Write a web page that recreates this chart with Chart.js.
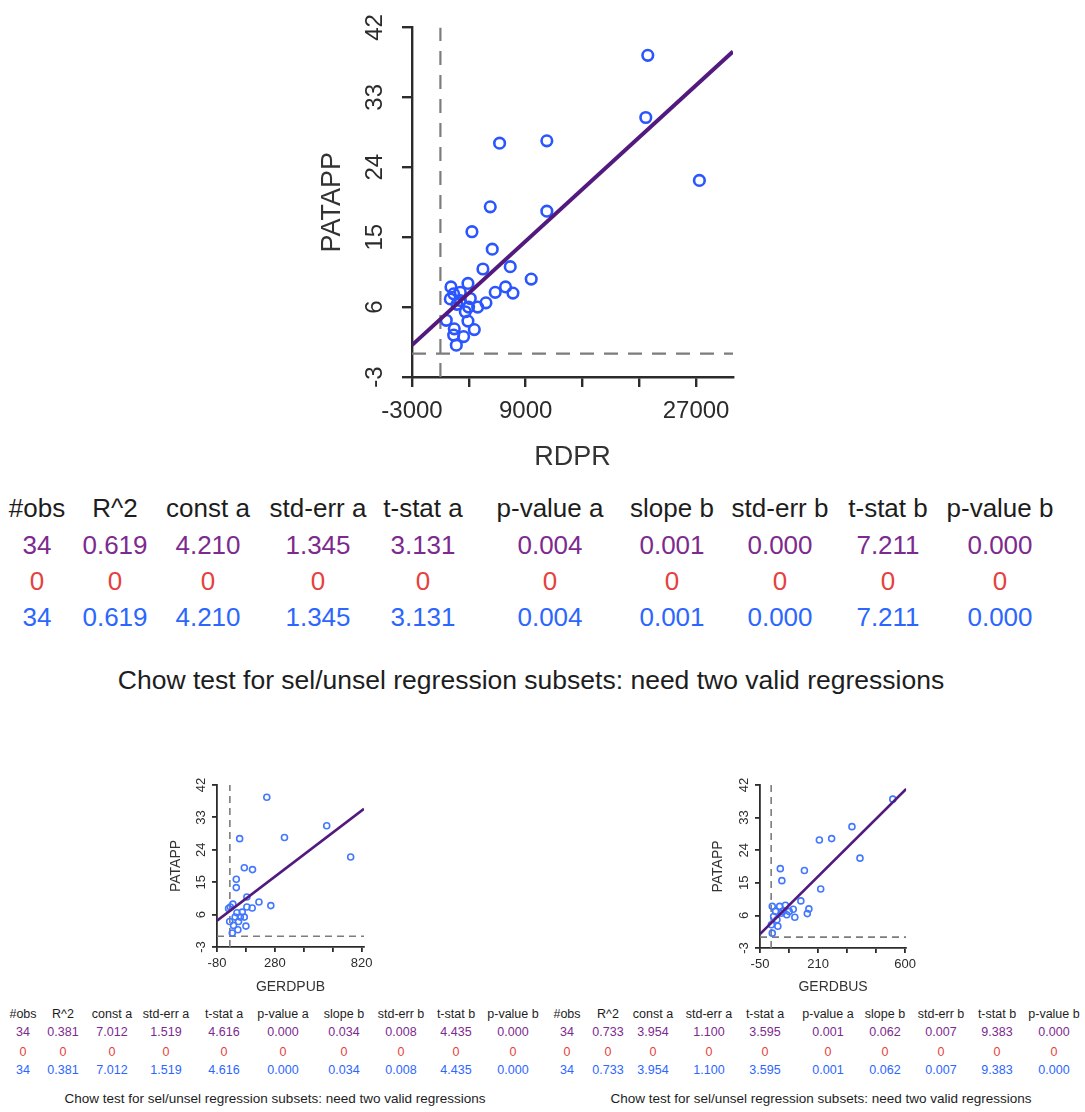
<!DOCTYPE html>
<html>
<head>
<meta charset="utf-8">
<script src="https://cdn.jsdelivr.net/npm/chart.js@4.4.1/dist/chart.umd.min.js"></script>
<style>
  html, body { margin: 0; padding: 0; background: #fff; }
  #page { position: relative; width: 1085px; height: 1112px; overflow: hidden; font-family: "Liberation Sans", Arial, sans-serif; }
  canvas { position: absolute; }
  .t { position: absolute; white-space: nowrap; transform: translate(-50%, -50%); line-height: 1; }
</style>
</head>
<body>
<div id="page">
  <canvas id="mainChart" width="460" height="480" style="left:300px;top:0px"></canvas>
  <canvas id="pubChart" width="230" height="230" style="left:150px;top:770px"></canvas>
  <canvas id="busChart" width="230" height="230" style="left:690px;top:770px"></canvas>
</div>
<script>
// --- data ---
const yTicks = [-3, 6, 15, 24, 33, 42];

// RDPR vs PATAPP
const rdprX = [21900, 21690, 6250, 11240, 27350, 5265, 11240, 3330, 5475, 4490, 7375, 9590, 6880, 5790, 7660, 1115, 2910, 2100, 1045, 3155, 4810, 3930, 2980, 1750, 620, 2910, 1465, 3580, 1400, 2450, 1680, 2100, 2630, 1400];
const rdprY = [38.4, 30.4, 27.1, 27.4, 22.3, 18.9, 18.35, 15.7, 13.45, 10.9, 11.2, 9.6, 8.6, 7.9, 7.8, 8.6, 9.05, 7.9, 7.05, 7.1, 6.55, 6.0, 6.0, 6.35, 4.3, 4.2, 3.2, 3.1, 2.4, 2.2, 1.1, 6.85, 5.4, 7.7];
const rdprTicks = [-3000, 3000, 9000, 15000, 21000, 27000];
const rdprLabels = [-3000, 9000, 27000];
const rdprFit = [[-3000, 1.1], [30900, 38.9]];

// GERDPUB vs PATAPP
const pubX = [230, 603, 340, 61, 752, 90, 141, 40, 40, 106, 181, 255, 139, 106, 3, 19, -8, 44, 77, 90, -1, 54, 23, 100, 50, 15, 65, 33];
const pubY = [38.6, 30.7, 27.4, 27.1, 22.0, 19.0, 18.5, 15.8, 13.5, 10.9, 9.5, 8.5, 7.85, 8.1, 8.1, 8.9, 7.7, 6.5, 6.7, 5.3, 4.1, 4.1, 3.0, 2.8, 1.8, 0.9, 5.3, 5.3];
const pubTicks = [-80, 100, 280, 460, 640, 820];
const pubLabels = [-80, 280, 820];
const pubFit = [[-80, 4.3], [835, 35.4]];

// GERDBUS vs PATAPP
const busX = [545, 362, 271, 216, 398, 41, 149, 48, 222, 133, 169, 162, 99, 64, 38, 5, 20, 70, 106, 81, 11, 26, 1, 30, 5, 45, 52];
const busY = [38.1, 30.5, 27.2, 26.8, 21.8, 18.9, 18.4, 15.6, 13.3, 10.0, 7.8, 6.5, 7.7, 8.8, 8.5, 8.5, 7.1, 6.2, 5.5, 7.1, 5.7, 4.8, 3.4, 3.0, 1.1, 6.6, 7.1];
const busTicks = [-50, 80, 210, 340, 470, 600];
const busLabels = [-50, 210, 600];
const busFit = [[-50, 0.85], [605, 40.9]];

// regression tables
const headers = ['#obs', 'R^2', 'const a', 'std-err a', 't-stat a', 'p-value a', 'slope b', 'std-err b', 't-stat b', 'p-value b'];
const rdprAll = ['34', '0.619', '4.210', '1.345', '3.131', '0.004', '0.001', '0.000', '7.211', '0.000'];
const pubAll = ['34', '0.381', '7.012', '1.519', '4.616', '0.000', '0.034', '0.008', '4.435', '0.000'];
const busAll = ['34', '0.733', '3.954', '1.100', '3.595', '0.001', '0.062', '0.007', '9.383', '0.000'];
const emptyRow = ['0', '0', '0', '0', '0', '0', '0', '0', '0', '0'];
const chowText = 'Chow test for sel/unsel regression subsets: need two valid regressions';

const PURPLE = '#7d2a8f', RED = '#e6413d', BLUE = '#2c66ff';

function toPts(xs, ys) { return xs.map((x, i) => ({ x: x, y: ys[i] })); }

function scatter(id, o) {
  const f = o.font;
  new Chart(document.getElementById(id), {
    type: 'scatter',
    data: {
      datasets: [
        { data: o.fit.map(p => ({ x: p[0], y: p[1] })), showLine: true, borderColor: '#521a7e', borderWidth: o.fitW, pointRadius: 0, order: 1 },
        { data: toPts(o.xs, o.ys), pointRadius: o.r, pointBorderWidth: o.pw, pointBorderColor: o.ptColor, pointBackgroundColor: 'rgba(0,0,0,0)', order: 2 },
        { data: [{ x: 0, y: o.yMin }, { x: 0, y: o.yMax }], showLine: true, borderColor: '#7c7c7c', borderWidth: o.dashW, borderDash: o.dash, pointRadius: 0, order: 3 },
        { data: [{ x: o.xMin, y: 0 }, { x: o.xMax, y: 0 }], showLine: true, borderColor: '#7c7c7c', borderWidth: o.dashW, borderDash: o.dash, pointRadius: 0, order: 3 }
      ]
    },
    options: {
      responsive: false,
      animation: false,
      layout: { padding: { left: 0, top: o.padTop, right: o.padRight, bottom: 0 } },
      plugins: { legend: { display: false }, tooltip: { enabled: false } },
      scales: {
        x: {
          type: 'linear', min: o.xMin, max: o.xMax,
          afterBuildTicks: s => { s.ticks = o.xTicks.map(v => ({ value: v })); },
          afterFit: s => { s.height = o.xH; },
          grid: { drawOnChartArea: false, drawTicks: true, tickLength: o.tl, color: '#2b2b2b', lineWidth: o.axW },
          border: { display: true, color: '#2b2b2b', width: o.axW },
          ticks: { autoSkip: false, minRotation: 0, maxRotation: 0, padding: o.xPad, color: '#2b2b2b', font: { family: 'Liberation Sans', size: f.tick },
            callback: v => o.xLabels.includes(v) ? String(v) : '' },
          title: { display: true, text: o.xTitle, color: '#333', font: { family: 'Liberation Sans', size: f.title }, padding: { top: 0, bottom: o.xtPad } }
        },
        y: {
          type: 'linear', min: o.yMin, max: o.yMax,
          afterBuildTicks: s => { s.ticks = yTicks.map(v => ({ value: v })); },
          afterFit: s => { s.width = o.yW; },
          grid: { drawOnChartArea: false, drawTicks: true, tickLength: o.tl, color: '#2b2b2b', lineWidth: o.axW },
          border: { display: true, color: '#2b2b2b', width: o.axW },
          ticks: { autoSkip: false, minRotation: 90, maxRotation: 90, crossAlign: 'center', padding: o.yPad, color: '#2b2b2b', font: { family: 'Liberation Sans', size: f.tick } },
          title: { display: true, text: 'PATAPP', color: '#333', font: { family: 'Liberation Sans', size: f.title }, padding: { top: o.ytPad, bottom: 0 } }
        }
      }
    }
  });
}

scatter('mainChart', {
  xs: rdprX, ys: rdprY, fit: rdprFit, xTicks: rdprTicks, xLabels: rdprLabels, xTitle: 'RDPR',
  xMin: -3000, xMax: 30900, yMin: -3, yMax: 42,
  padTop: 25, padRight: 27, xH: 103, yW: 112,
  font: { tick: 24, title: 27 }, tl: 10, axW: 2.4, xPad: 10, yPad: 13, xtPad: 6, ytPad: 16,
  r: 5.3, pw: 2.6, ptColor: '#2a55ff', fitW: 4, dashW: 2.2, dash: [14, 10]
});

scatter('pubChart', {
  xs: pubX, ys: pubY, fit: pubFit, xTicks: pubTicks, xLabels: pubLabels, xTitle: 'GERDPUB',
  xMin: -80, xMax: 835, yMin: -3, yMax: 42,
  padTop: 15, padRight: 16, xH: 53, yW: 67,
  font: { tick: 13, title: 14 }, tl: 5, axW: 1.8, xPad: 4, yPad: 3, xtPad: 4, ytPad: 18,
  r: 3, pw: 1.6, ptColor: '#4377ff', fitW: 2.6, dashW: 1.6, dash: [7, 5]
});

scatter('busChart', {
  xs: busX, ys: busY, fit: busFit, xTicks: busTicks, xLabels: busLabels, xTitle: 'GERDBUS',
  xMin: -50, xMax: 605, yMin: -3, yMax: 42,
  padTop: 15, padRight: 12, xH: 52, yW: 70,
  font: { tick: 13, title: 14 }, tl: 5, axW: 1.8, xPad: 4, yPad: 3, xtPad: 4, ytPad: 20,
  r: 3, pw: 1.6, ptColor: '#4377ff', fitW: 2.6, dashW: 1.6, dash: [7, 5]
});

// --- tables as text ---
const page = document.getElementById('page');
function txt(s, x, y, size, color) {
  const el = document.createElement('div');
  el.className = 't';
  el.textContent = s;
  el.style.left = x + 'px';
  el.style.top = y + 'px';
  el.style.fontSize = size + 'px';
  el.style.color = color;
  page.appendChild(el);
}
function table(cols, rowsY, vals, size, chow) {
  const rows = [[headers, '#1d1d1d'], [vals, PURPLE], [emptyRow, RED], [vals, BLUE]];
  rows.forEach((r, i) => r[0].forEach((s, j) => txt(s, cols[j], rowsY[i], size, r[1])));
  txt(chowText, chow.x, chow.y, chow.size, '#1d1d1d');
}

table([37, 115, 208, 318, 423, 550, 672, 780, 888, 1000], [508, 545, 581, 617], rdprAll, 26, { x: 531, y: 680, size: 26.5 });
table([23, 63, 112, 166, 224, 283, 344, 401, 456, 513], [1014, 1032, 1052, 1070], pubAll, 12.5, { x: 275, y: 1099, size: 13.5 });
table([567, 608, 653, 709, 765, 828, 885, 941, 997, 1054], [1014, 1032, 1052, 1070], busAll, 12.5, { x: 821, y: 1099, size: 13.5 });
</script>
</body>
</html>
